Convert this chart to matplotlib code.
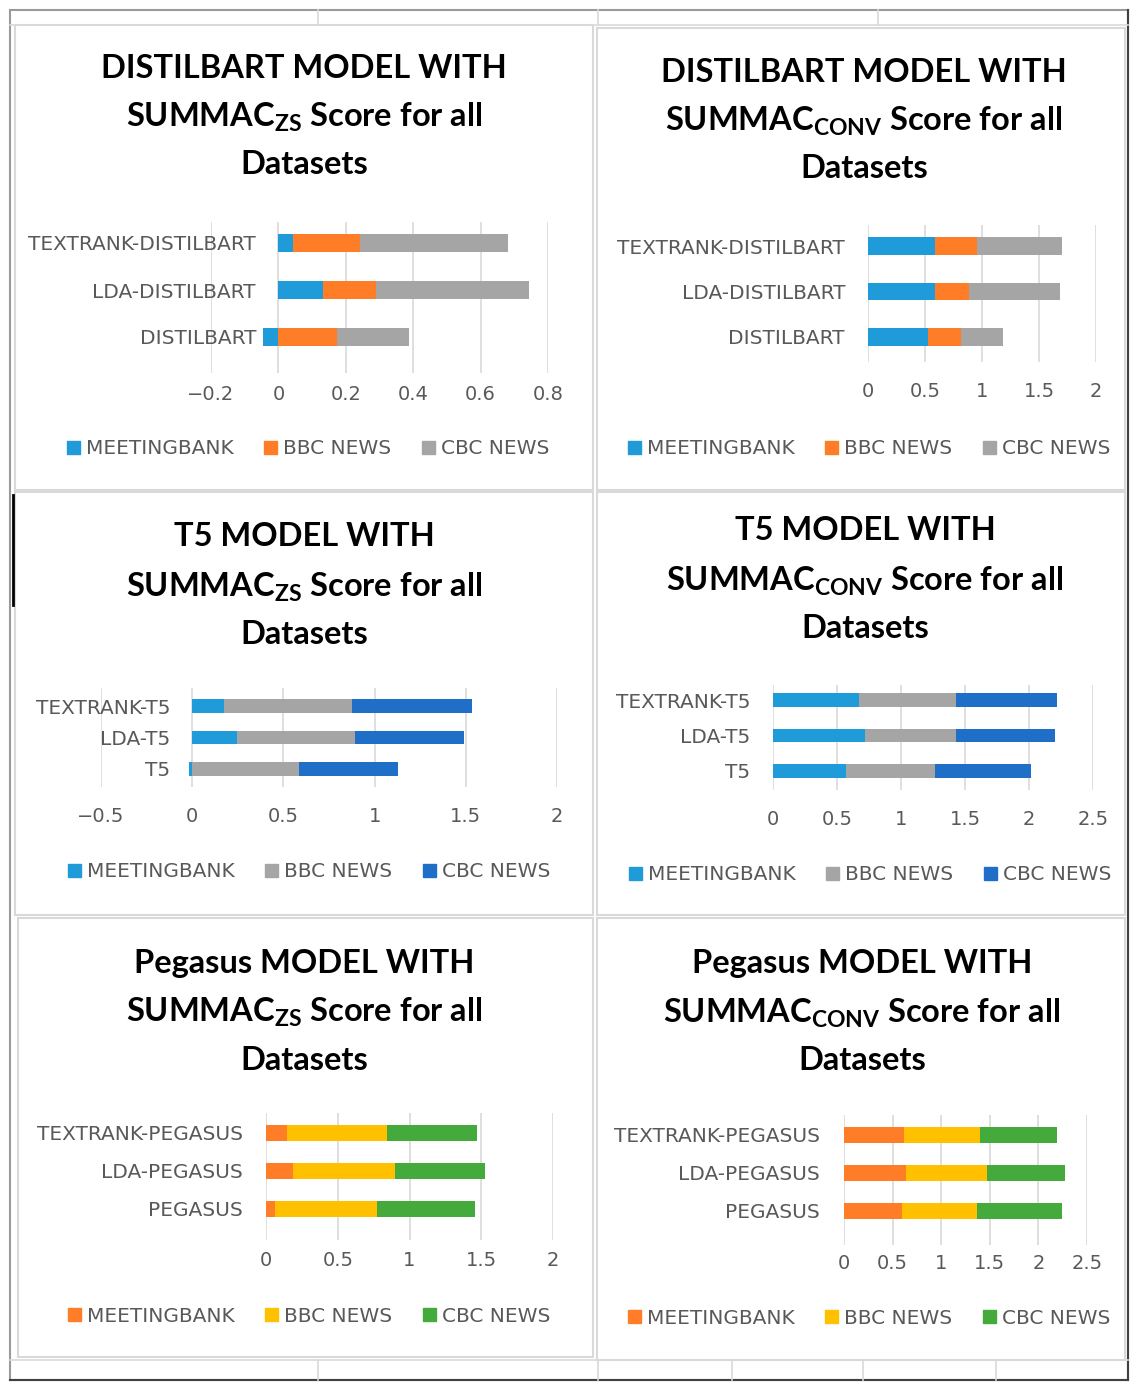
import numpy as np
import matplotlib
matplotlib.use("Agg")
import matplotlib.pyplot as plt
from matplotlib.patches import Patch, Rectangle
from matplotlib.lines import Line2D

# ---- data ----
series_names = ["MEETINGBANK", "BBC NEWS", "CBC NEWS"]

distil_cats = ["DISTILBART", "LDA-DISTILBART", "TEXTRANK-DISTILBART"]
distil_zs_meeting = [-0.047, 0.133, 0.042]
distil_zs_bbc = [0.175, 0.158, 0.200]
distil_zs_cbc = [0.212, 0.452, 0.438]
distil_conv_meeting = [0.523, 0.587, 0.587]
distil_conv_bbc = [0.297, 0.300, 0.370]
distil_conv_cbc = [0.363, 0.794, 0.745]

t5_cats = ["T5", "LDA-T5", "TEXTRANK-T5"]
t5_zs_meeting = [-0.02, 0.245, 0.175]
t5_zs_bbc = [0.588, 0.647, 0.702]
t5_zs_cbc = [0.543, 0.598, 0.656]
t5_conv_meeting = [0.572, 0.715, 0.674]
t5_conv_bbc = [0.692, 0.716, 0.757]
t5_conv_cbc = [0.755, 0.770, 0.790]

peg_cats = ["PEGASUS", "LDA-PEGASUS", "TEXTRANK-PEGASUS"]
peg_zs_meeting = [0.060, 0.187, 0.149]
peg_zs_bbc = [0.711, 0.709, 0.694]
peg_zs_cbc = [0.682, 0.629, 0.627]
peg_conv_meeting = [0.592, 0.640, 0.616]
peg_conv_bbc = [0.774, 0.836, 0.781]
peg_conv_cbc = [0.877, 0.798, 0.795]

xticks_distil_zs = [-0.2, 0, 0.2, 0.4, 0.6, 0.8]
xticks_2 = [0, 0.5, 1, 1.5, 2]
xticks_t5_zs = [-0.5, 0, 0.5, 1, 1.5, 2]
xticks_25 = [0, 0.5, 1, 1.5, 2, 2.5]

# ---- style ----
W, H = 1136, 1389
plt.rcParams["font.family"] = ["DejaVu Sans"]
plt.rcParams["mathtext.fontset"] = "custom"
plt.rcParams["mathtext.bf"] = "Lato:bold"
plt.rcParams["mathtext.rm"] = "Lato:bold"
TITLE_FONT = ["Lato", "DejaVu Sans"]
TXT = "#595959"
GRID = "#d9d9d9"

BLUE = "#1f9bd9"
ORANGE = "#ff7d27"
GRAY = "#a5a5a5"
DBLUE = "#1f6fc8"
YELLOW = "#ffc000"
GREEN = "#44aa3c"

fig = plt.figure(figsize=(W / 100, H / 100), dpi=100)


def fx(x):
    return x / W


def fy(y):
    return 1 - y / H


def fmt(v):
    if v == 0:
        return "0"
    s = ("%g" % v)
    return s.replace("-", "\u2212")


def panel(vals, colors, cats, xlim, xticks, px, grid_tb, centers, tick_y,
          label_right, title, title_x, title_ys, leg_x, leg_y, bar_h):
    x0, x1 = px
    top, bot = grid_tb
    ax = fig.add_axes([fx(x0), fy(bot), (x1 - x0) / W, (bot - top) / H])
    s = (centers[2] - centers[0]) / 2.0
    ax.set_ylim(-(bot - centers[2]) / s, 2 + (centers[0] - top) / s)
    ax.set_xlim(*xlim)
    y = np.arange(len(cats))
    pos = np.zeros(len(cats))
    neg = np.zeros(len(cats))
    for v, c in zip(vals, colors):
        v = np.array(v)
        left = np.where(v >= 0, pos, neg)
        ax.barh(y, v, left=left, height=bar_h, color=c, zorder=3)
        pos = pos + np.where(v >= 0, v, 0)
        neg = neg + np.where(v < 0, v, 0)
    ax.set_yticks(y)
    ax.set_yticklabels(cats, fontsize=14.5, color=TXT)
    ax.set_xticks(xticks)
    ax.set_xticklabels([fmt(t) for t in xticks], fontsize=14, color=TXT)
    ax.tick_params(length=0)
    ax.tick_params(axis="x", pad=(tick_y - 10 - bot) * 0.72)
    ax.tick_params(axis="y", pad=(x0 - label_right) * 0.72)
    for sp in ax.spines.values():
        sp.set_visible(False)
    ax.grid(axis="x", color=GRID, lw=1.2, zorder=0)
    ax.set_facecolor("none")
    for t, ty in zip(title, title_ys):
        fig.text(fx(title_x), fy(ty), t, ha="center", va="center",
                 fontsize=23.5, fontweight="bold", family=TITLE_FONT)
    handles = [Patch(color=c) for c in colors]
    fig.legend(handles, series_names, ncol=3, loc="center",
               bbox_to_anchor=(fx(leg_x), fy(leg_y)), frameon=False,
               fontsize=14.5, labelcolor=TXT, handlelength=0.65,
               handleheight=0.65, handletextpad=0.3, columnspacing=1.5)
    return ax


# ---- background spreadsheet frame and chart borders ----
def line(xs, ys, c=GRID, lw=1.2):
    fig.add_artist(Line2D([fx(v) for v in xs], [fy(v) for v in ys],
                          color=c, lw=lw))


def box(x0, y0, x1, y1, c=GRID, lw=1.5):
    fig.add_artist(Rectangle((fx(x0), fy(y1)), (x1 - x0) / W, (y1 - y0) / H,
                             fill=False, ec=c, lw=lw))


box(10, 10, 1128, 1380, c="#9a9a9a", lw=1.5)
line([1128, 1128], [10, 1380], c="#404040", lw=1.5)
line([10, 1128], [1380, 1380], c="#404040", lw=1.5)
line([10, 1128], [25, 25])
line([10, 1128], [1360, 1360])
for xv in [318, 598, 878]:
    line([xv, xv], [10, 25])
for xv in [318, 598, 732, 863, 996]:
    line([xv, xv], [1360, 1380])
line([13, 13], [495, 605], c="black", lw=2)

box(15, 25, 593, 490)
box(597, 28, 1125, 490)
box(15, 492, 593, 915)
box(597, 492, 1125, 915)
box(18, 918, 593, 1357)
box(597, 918, 1125, 1360)

ZS = r"$\mathbf{SUMMAC_{ZS}}$ Score for all"
CONV = r"$\mathbf{SUMMAC_{CONV}}$ Score for all"

panel([distil_zs_meeting, distil_zs_bbc, distil_zs_cbc], [BLUE, ORANGE, GRAY],
      distil_cats, (-0.2, 0.8), xticks_distil_zs, (211, 548), (222, 373),
      (243, 290, 337), 395, 256,
      ["DISTILBART MODEL WITH", ZS, "Datasets"], 304, (68, 117, 164),
      308, 449, 0.38)

panel([distil_conv_meeting, distil_conv_bbc, distil_conv_cbc], [BLUE, ORANGE, GRAY],
      distil_cats, (0, 2), xticks_2, (868, 1096), (225, 362),
      (246, 293, 337), 392, 845,
      ["DISTILBART MODEL WITH", CONV, "Datasets"], 864, (72, 121, 168),
      869, 449, 0.38)

panel([t5_zs_meeting, t5_zs_bbc, t5_zs_cbc], [BLUE, GRAY, DBLUE],
      t5_cats, (-0.5, 2), xticks_t5_zs, (101, 557), (688, 787),
      (706, 737, 769), 817, 170,
      ["T5 MODEL WITH", ZS, "Datasets"], 304, (537, 587, 634),
      309, 872, 0.42)

panel([t5_conv_meeting, t5_conv_bbc, t5_conv_cbc], [BLUE, GRAY, DBLUE],
      t5_cats, (0, 2.5), xticks_25, (773, 1093), (685, 790),
      (700, 736, 771), 820, 750,
      ["T5 MODEL WITH", CONV, "Datasets"], 865, (531, 581, 629),
      870, 875, 0.38)

panel([peg_zs_meeting, peg_zs_bbc, peg_zs_cbc], [ORANGE, YELLOW, GREEN],
      peg_cats, (0, 2), xticks_2, (266, 553), (1113, 1240),
      (1133, 1171, 1209), 1261, 243,
      ["Pegasus MODEL WITH", ZS, "Datasets"], 304, (963, 1012, 1060),
      309, 1316, 0.4)

panel([peg_conv_meeting, peg_conv_bbc, peg_conv_cbc], [ORANGE, YELLOW, GREEN],
      peg_cats, (0, 2.5), xticks_25, (844, 1087), (1115, 1245),
      (1135, 1172, 1211), 1264, 820,
      ["Pegasus MODEL WITH", CONV, "Datasets"], 862, (963, 1013, 1060),
      869, 1318, 0.4)

fig.savefig("out.png", dpi=100)
